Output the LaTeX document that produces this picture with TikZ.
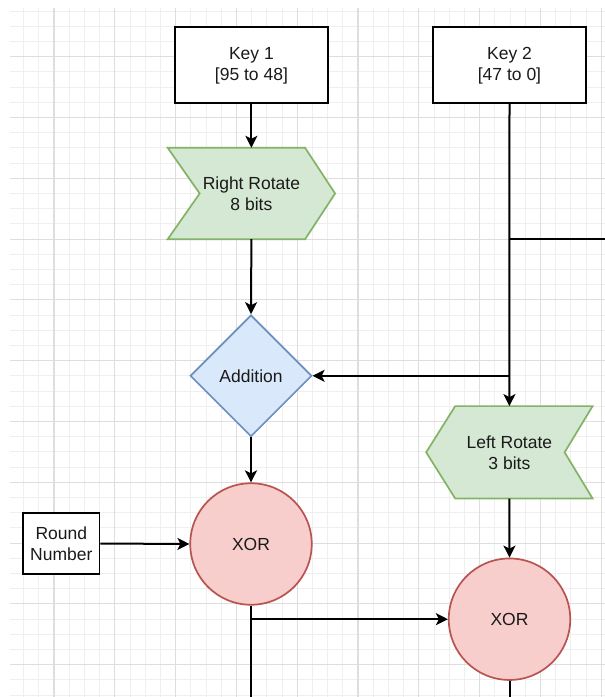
\documentclass[tikz,border=0pt]{standalone}
\usepackage{fontspec}
\setmainfont{Liberation Sans}
\usetikzlibrary{arrows.meta,calc,shapes.geometric,backgrounds}
\definecolor{gfill}{HTML}{D5E8D4}\definecolor{gdraw}{HTML}{82B366}
\definecolor{bfill}{HTML}{DAE8FC}\definecolor{bdraw}{HTML}{6C8EBF}
\definecolor{rfill}{HTML}{F8CECC}\definecolor{rdraw}{HTML}{B85450}
\definecolor{txt}{HTML}{1A1A1A}
\definecolor{gminor}{HTML}{EFEFEF}
\definecolor{gmajor}{HTML}{DEDEDE}
\begin{document}
\begin{tikzpicture}[x=1pt,y=-1pt,
  every node/.style={font=\fontsize{17.5}{21}\selectfont, text=txt, align=center, inner sep=0pt},
  keybox/.style={rectangle, draw=black, fill=white, line width=1.8pt},
  ghost/.style={rectangle},
  greenshape/.style={draw=gdraw, fill=gfill, line width=1.7pt, line join=miter},
  addshape/.style={diamond, aspect=1, draw=bdraw, fill=bfill, line width=1.7pt, minimum size=121.5pt},
  xorshape/.style={circle, draw=rdraw, fill=rfill, line width=1.7pt, minimum size=121.5pt},
  conn/.style={draw=black, line width=2pt},
  arr/.style={conn, -{Stealth[length=12pt,width=12pt,inset=3pt]}},
  minorline/.style={draw=gminor, line width=1pt},
  majorline/.style={draw=gmajor, line width=1.1pt}
]
\useasboundingbox (0,0) rectangle (605,697);
% grid
\begin{scope}[on background layer]
  \fill[white] (0,0) rectangle (605,697);
  \begin{scope}
    \clip (10,8) rectangle (605,697);
    \foreach \i in {0,...,41} {\draw[minorline] ({-6.8+15.2*\i},8) -- ({-6.8+15.2*\i},697);}
    \foreach \i in {0,...,46} {\draw[minorline] (10,{-4.1+15.2*\i}) -- (605,{-4.1+15.2*\i});}
    \foreach \i in {0,...,10} {\draw[majorline] ({-6.8+60.8*\i},8) -- ({-6.8+60.8*\i},697);}
    \foreach \i in {0,...,11} {\draw[majorline] (10,{-4.1+60.8*\i}) -- (605,{-4.1+60.8*\i});}
  \end{scope}
\end{scope}
% nodes
\node[keybox, minimum width=153pt, minimum height=76pt] (k1) at (251.4,65.3) {Key 1\\{}[95 to 48]};
\node[keybox, minimum width=152.3pt, minimum height=76pt] (k2) at (509.5,65.3) {Key 2\\{}[47 to 0]};
\node[ghost, minimum width=167pt, minimum height=91pt] (rr) at (251.4,193.5) {Right Rotate\\8 bits};
\node[ghost, minimum width=166pt, minimum height=92pt] (lr) at (509.4,452.3) {Left Rotate\\3 bits};
\node[addshape] (add) at (251,375.8) {Addition};
\node[xorshape] (x1) at (251,544) {XOR};
\node[xorshape] (x2) at (509.5,619.2) {XOR};
\node[keybox, minimum width=76.4pt, minimum height=61.6pt] (rn) at (61.3,543.5) {Round\\Number};
\begin{scope}[on background layer]
  \draw[greenshape] (rr.north west) -- ($(rr.north east)+(-30,0)$) -- (rr.east)
     -- ($(rr.south east)+(-30,0)$) -- (rr.south west) -- ($(rr.west)+(32,0)$) -- cycle;
  \draw[greenshape] (lr.west) -- ($(lr.north west)+(29,0)$) -- (lr.north east)
     -- ($(lr.east)+(-28,0)$) -- (lr.south east) -- ($(lr.south west)+(29,0)$) -- cycle;
\end{scope}
% free ends
\coordinate (edgeR) at (605,239.3);
\coordinate (bot1) at (251,697);
\coordinate (bot2) at (509.5,697);
% connectors
\draw[arr] (k1.south) -- (rr.north);
\draw[arr] (rr.south) -- (add.north);
\draw[arr] (add.south) -- (x1.north);
\draw[arr] (k2.south) -- (lr.north);
\draw[conn] (k2.south |- edgeR) -- (edgeR);
\draw[arr] (k2.south |- add.east) -- (add.east);
\draw[arr] (rn.east) -- (x1.west);
\draw[arr] (lr.south) -- (x2.north);
\draw[conn] (x1.south) -- (bot1);
\draw[arr] (x1.south |- x2.west) -- (x2.west);
\draw[conn] (x2.south) -- (bot2);
\end{tikzpicture}
\end{document}
